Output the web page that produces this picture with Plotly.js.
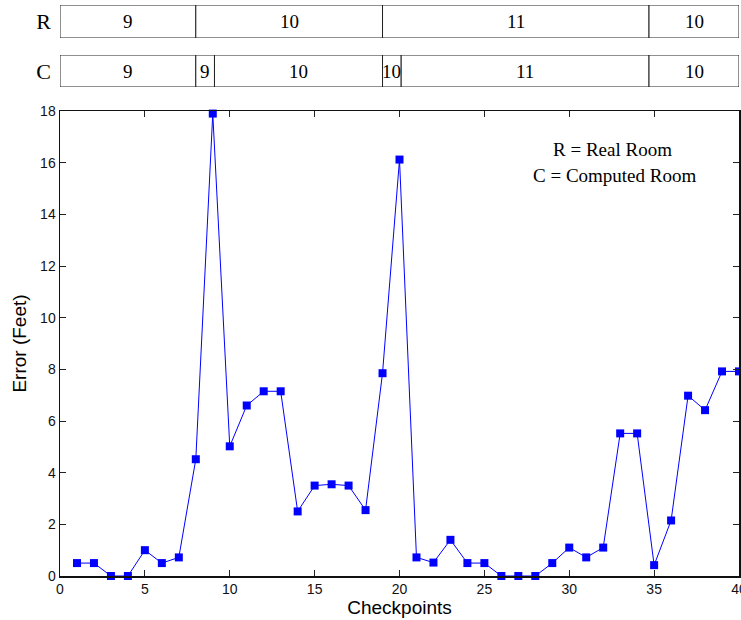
<!DOCTYPE html>
<html>
<head>
<meta charset="utf-8">
<script src="https://cdn.plot.ly/plotly-3.0.1.min.js"></script>
<style>html,body{margin:0;padding:0;background:#fff;}#chart{width:741px;height:620px;}</style>
</head>
<body>
<div id="chart"></div>
<script>
// Checkpoints and error values (feet)
const checkpoints = [1,2,3,4,5,6,7,8,9,10,11,12,13,14,15,16,17,18,19,20,21,22,23,24,25,26,27,28,29,30,31,32,33,34,35,36,37,38,39,40];
const errorFeet = [0.5,0.5,0,0,1.0,0.5,0.72,4.52,17.9,5.02,6.6,7.15,7.15,2.5,3.5,3.55,3.5,2.55,7.85,16.12,0.72,0.52,1.4,0.5,0.5,0,0,0,0.5,1.1,0.72,1.1,5.52,5.52,0.42,2.15,6.98,6.42,7.92,7.92];

// Room bars: segment boundaries along the checkpoint axis and room numbers
const realRooms = [9,10,11,10];
const realBounds = [0,8,19,34.7,40];
const compRooms = [9,9,10,10,11,10];
const compBounds = [0,8,9.1,19,20.1,34.7,40];

const xTicks = [0,5,10,15,20,25,30,35,40];
const yTicks = [0,2,4,6,8,10,12,14,16,18];

function segBar(label, rooms, bounds, yax){
  const starts = bounds.slice(0,-1);
  const widths = starts.map((s,i)=>bounds[i+1]-s);
  return {
    type:'bar', orientation:'h',
    y: rooms.map(()=>label), x: widths, base: starts,
    width: 1,
    marker:{color:'#ffffff', line:{color:'#222222', width:1}},
    xaxis:'x', yaxis:yax, hoverinfo:'skip', showlegend:false
  };
}
function segText(rooms, bounds, yax, label){
  return rooms.map((r,i)=>({
    x:(bounds[i]+bounds[i+1])/2, y:label, xref:'x', yref:yax,
    text:String(r), showarrow:false, xanchor:'center',
    font:{family:'Liberation Serif, Times New Roman, serif', size:19, color:'#000'}
  }));
}

const traces = [
  segBar('R', realRooms, realBounds, 'y2'),
  segBar('C', compRooms, compBounds, 'y3'),
  {
    type:'scatter', mode:'lines+markers',
    x: checkpoints, y: errorFeet,
    line:{color:'#0000ff', width:1},
    marker:{symbol:'square', size:8, color:'#0000ff'},
    xaxis:'x', yaxis:'y', showlegend:false, cliponaxis:false
  }
];

const tickFont = {family:'Liberation Sans, Arial, sans-serif', size:14, color:'#111'};
const H = 576;
const layout = {
  width:741, height:620,
  margin:{l:60, r:2, t:0, b:44},
  paper_bgcolor:'#fff', plot_bgcolor:'#fff',
  barmode:'overlay',
  showlegend:false,
  xaxis:{
    range:[0,40], tickvals:xTicks, ticktext:xTicks.map(String),
    ticks:'inside', ticklen:6, tickcolor:'#222', tickwidth:1,
    showline:true, linecolor:'#111', linewidth:1.5, mirror:'ticks',
    showgrid:false, zeroline:false, tickfont:tickFont, ticklabeloverflow:'allow',
    title:{text:'Checkpoints', font:{family:'Liberation Sans, Arial, sans-serif', size:19, color:'#000'}, standoff:2},
    domain:[0,1], anchor:'y'
  },
  yaxis:{
    range:[0,18], tickvals:yTicks, ticktext:yTicks.map(String),
    ticks:'inside', ticklen:6, tickcolor:'#222', tickwidth:1,
    showline:true, linecolor:'#111', linewidth:1.5, mirror:'ticks',
    showgrid:false, zeroline:false, tickfont:tickFont, ticklabeloverflow:'allow',
    title:{text:'Error (Feet)', font:{family:'Liberation Sans, Arial, sans-serif', size:19, color:'#000'}, standoff:8},
    domain:[0,(H-111)/H], anchor:'x'
  },
  yaxis2:{
    domain:[(H-38)/H,(H-5)/H], range:[-0.5,0.5], type:'category',
    showgrid:false, zeroline:false, showline:false, ticks:'',
    tickfont:{family:'Liberation Serif, Times New Roman, serif', size:22, color:'#000'},
    ticklabelstandoff:8, anchor:'x', fixedrange:true
  },
  yaxis3:{
    domain:[(H-87)/H,(H-55)/H], range:[-0.5,0.5], type:'category',
    showgrid:false, zeroline:false, showline:false, ticks:'',
    tickfont:{family:'Liberation Serif, Times New Roman, serif', size:22, color:'#000'},
    ticklabelstandoff:8, anchor:'x', fixedrange:true
  },
  annotations: [
    {x:(612-60)/679, y:(H-150)/H, xref:'paper', yref:'paper', xanchor:'center', yanchor:'middle', text:'R = Real Room', showarrow:false,
     font:{family:'Liberation Serif, Times New Roman, serif', size:19, color:'#000'}},
    {x:(614-60)/679, y:(H-175)/H, xref:'paper', yref:'paper', xanchor:'center', yanchor:'middle', text:'C = Computed Room', showarrow:false,
     font:{family:'Liberation Serif, Times New Roman, serif', size:19, color:'#000'}}
  ].concat(segText(realRooms, realBounds, 'y2', 'R'), segText(compRooms, compBounds, 'y3', 'C'))
};

Plotly.newPlot('chart', traces, layout, {displayModeBar:false, staticPlot:true});
</script>
</body>
</html>
